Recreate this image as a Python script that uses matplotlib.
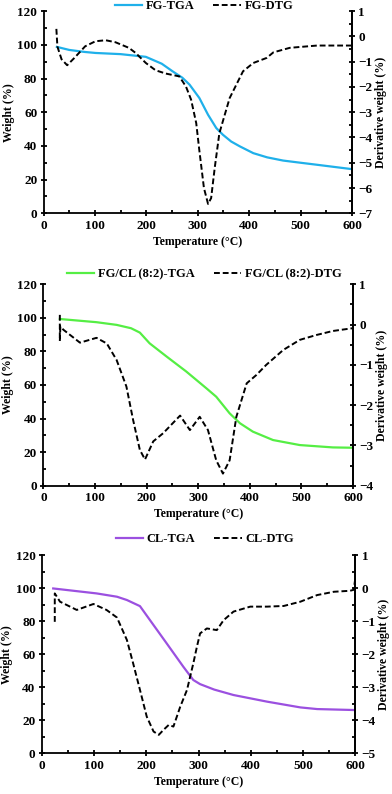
import matplotlib
matplotlib.use('Agg')
import matplotlib.pyplot as plt
import numpy as np
from matplotlib.ticker import MultipleLocator

plt.rcParams['font.family'] = 'Liberation Serif'
plt.rcParams['font.weight'] = 'bold'

# FG
fg_tga_t = [26, 50, 80, 101, 150, 199, 230, 251, 270, 284, 303, 320, 336, 349, 365, 382, 408, 435, 466, 500, 532, 600]
fg_tga_w = [98.8, 97.0, 95.8, 95.2, 94.5, 92.9, 88.8, 84.3, 80.5, 76.4, 68.5, 58.5, 50.6, 46.6, 42.6, 39.7, 35.7,
            33.2, 31.3, 30.0, 28.8, 26.2]
fg_dtg_t = [25, 27, 35, 46, 60, 81, 101, 121, 140, 166, 179, 199, 218, 238, 264, 277, 287, 297,
            303, 312, 320, 326, 333, 342, 362, 388, 408, 434, 447, 479, 532, 600]
fg_dtg_d = [0.3, -0.4, -0.9, -1.14, -0.85, -0.39, -0.19, -0.15, -0.23, -0.45, -0.65, -1.05, -1.34, -1.47, -1.58,
            -1.98, -2.5, -3.43, -4.5, -6.0, -6.63, -6.4, -5.2, -3.83, -2.44, -1.38, -1.05, -0.85, -0.63, -0.45, -0.36, -0.36]

# FG/CL (8:2)
mix_tga_t = [32, 103, 142, 170, 187, 206, 239, 277, 316, 335, 361, 381, 406, 445, 497, 561, 600]
mix_tga_w = [99.3, 97.4, 95.8, 93.8, 91.2, 84.8, 76.9, 68.0, 58.0, 53.0, 43.1, 37.2, 32.2, 27.2, 24.2, 22.8, 22.6]
mix_dtg_t = [32, 32, 33, 39, 71, 103, 123, 142, 161, 174, 187, 197, 213, 232, 265, 284, 303, 319,
             335, 348, 361, 374, 394, 413, 432, 465, 497, 529, 561, 600]
mix_dtg_d = [0.24, -0.41, -0.05, -0.13, -0.45, -0.33, -0.47, -0.88, -1.54, -2.37, -3.11, -3.35, -2.9, -2.7,
             -2.26, -2.62, -2.29, -2.62, -3.37, -3.7, -3.37, -2.29, -1.46, -1.25, -1.0, -0.63, -0.38, -0.26, -0.16, -0.09]

# CL
cl_tga_t = [22, 105, 144, 163, 188, 207, 239, 271, 290, 303, 330, 367, 431, 495, 527, 600]
cl_tga_w = [99.8, 96.8, 94.8, 92.8, 89.1, 80.7, 66.6, 52.4, 44.4, 41.9, 38.6, 35.3, 31.3, 27.8, 26.8, 26.2]
cl_dtg_t = [25, 25, 35, 67, 99, 124, 144, 163, 175, 188, 201, 214, 224, 233, 243, 252, 265, 278, 290,
            297, 303, 316, 335, 348, 367, 399, 431, 463, 495, 527, 559, 590, 597, 600]
cl_dtg_d = [-1.02, -0.16, -0.41, -0.66, -0.48, -0.66, -0.89, -1.57, -2.28, -3.08, -3.89, -4.34, -4.44, -4.29,
            -4.14, -4.19, -3.59, -3.08, -2.28, -1.77, -1.37, -1.22, -1.27, -0.97, -0.71, -0.56, -0.56, -0.54,
            -0.41, -0.21, -0.11, -0.08, -0.05, 0.3]

panels = [
    (fg_tga_t, fg_tga_w, fg_dtg_t, fg_dtg_d, 'FG-TGA', 'FG-DTG', '#1fb0ea', (-7, 1),
     [0.1110, 0.7314, 0.787, 0.2545], 1.025),
    (mix_tga_t, mix_tga_w, mix_dtg_t, mix_dtg_d, 'FG/CL (8:2)-TGA', 'FG/CL (8:2)-DTG', '#55ee44', (-4, 1),
     [0.1105, 0.3883, 0.790, 0.2537], 1.05),
    (cl_tga_t, cl_tga_w, cl_dtg_t, cl_dtg_d, 'CL-TGA', 'CL-DTG', '#9b50e0', (-5, 1),
     [0.1064, 0.0512, 0.800, 0.2497], 1.08),
]

fig = plt.figure(figsize=(3.92, 7.94), dpi=100)

for tt, tw, dt, dd, lab1, lab2, col, rlim, pos, legy in panels:
    ax = fig.add_axes(pos)
    ax2 = ax.twinx()
    l1, = ax.plot(tt, tw, color=col, lw=1.6, label=lab1)
    l2, = ax2.plot(dt, dd, color='black', lw=1.4, ls=(0, (3, 1.5)), label=lab2)
    ax.set_xlim(0, 600)
    ax.set_ylim(0, 120)
    ax2.set_ylim(*rlim)
    ax.xaxis.set_major_locator(MultipleLocator(100))
    ax.xaxis.set_minor_locator(MultipleLocator(50))
    ax.yaxis.set_major_locator(MultipleLocator(20))
    ax.yaxis.set_minor_locator(MultipleLocator(10))
    ax2.yaxis.set_major_locator(MultipleLocator(1))
    ax2.yaxis.set_minor_locator(MultipleLocator(0.5))
    for a in (ax, ax2):
        a.spines['top'].set_visible(False)
        for s in a.spines.values():
            s.set_linewidth(1.3)
        a.tick_params(which='major', direction='inout', length=5, width=1.3, labelsize=9.5, pad=2)
        a.tick_params(which='minor', direction='in', length=2.5, width=1.3)
    ax2.spines['left'].set_visible(False)
    ax2.spines['bottom'].set_visible(False)
    ax.set_xlabel('Temperature (°C)', fontsize=8.5, fontweight='bold', labelpad=3)
    ax.set_ylabel('Weight (%)', fontsize=8.5, fontweight='bold', labelpad=2)
    ax2.set_ylabel('Derivative weight (%)', fontsize=8.5, fontweight='bold', labelpad=2)
    ax.legend([l1, l2], [lab1, lab2], loc='center', bbox_to_anchor=(0.52, legy), ncol=2,
              frameon=False, fontsize=9, handlelength=2.2, columnspacing=1.5, handletextpad=0.3,
              borderaxespad=0, borderpad=0)

fig.savefig('out.png', dpi=100)
